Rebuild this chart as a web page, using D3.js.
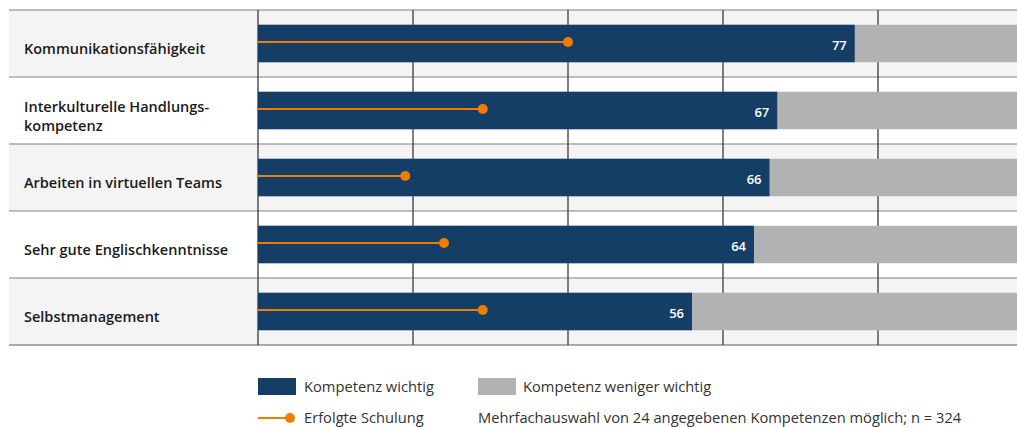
<!DOCTYPE html>
<html>
  <head>
    <meta charset="UTF-8" />
    <title>Kompetenzen</title>
    <script src="https://d3js.org/d3.v7.min.js"></script>
    <style>
      body {
        margin: 0;
        background: #fff;
      }
      svg {
        font-family: "Open Sans", Sans-Serif;
      }
      .cat-label {
        font-size: 14.5px;
        font-weight: 600;
        fill: #1a1a1a;
      }
      .value-label {
        font-size: 13px;
        font-weight: 600;
        fill: #fff;
      }
      .legend-text {
        font-size: 14.7px;
        fill: #333;
      }
    </style>
  </head>
  <body>
    <div id="chart"></div>
    <script>
      /* Data */
      var categories = [
        ["Kommunikationsfähigkeit"],
        ["Interkulturelle Handlungs-", "kompetenz"],
        ["Arbeiten in virtuellen Teams"],
        ["Sehr gute Englischkenntnisse"],
        ["Selbstmanagement"]
      ];
      var wichtig = [77, 67, 66, 64, 56];
      var schulung = [40, 29, 19, 24, 29];
      var ticks = [0, 20, 40, 60, 80, 100];

      var width = 1017;
      var height = 427;

      var blue = "#153e66";
      var grey = "#b1b2b4";
      var orange = "#ef7d00";

      var svg = d3.select("#chart").append("svg")
        .attr("width", width)
        .attr("height", height);

      /* Scales */
      var xScale = d3.scaleLinear()
        .domain([0, 100])
        .range([258, 1033]);

      var yScale = d3.scaleBand()
        .domain(d3.range(categories.length))
        .range([10, 345]);

      var barH = 37.5;

      /* Row backgrounds */
      svg.append("g").selectAll("rect")
        .data(categories).enter()
        .append("rect")
        .attr("x", 9)
        .attr("y", (d, i) => yScale(i))
        .attr("width", width - 9)
        .attr("height", yScale.bandwidth())
        .attr("fill", (d, i) => i % 2 == 0 ? "#f4f4f4" : "#fff");

      /* Row lines */
      svg.append("g").selectAll("line")
        .data(d3.range(categories.length + 1)).enter()
        .append("line")
        .attr("x1", 9)
        .attr("x2", width)
        .attr("y1", i => i < categories.length ? yScale(i) : yScale.range()[1])
        .attr("y2", i => i < categories.length ? yScale(i) : yScale.range()[1])
        .attr("stroke", "#a9a9a9")
        .attr("stroke-width", (d, i) => i == categories.length ? 2 : 1.5);

      /* Vertical grid */
      svg.append("g").selectAll("line")
        .data(ticks).enter()
        .append("line")
        .attr("x1", d => xScale(d))
        .attr("x2", d => xScale(d))
        .attr("y1", 10)
        .attr("y2", 345)
        .attr("stroke", "#3a3a3a")
        .attr("stroke-width", 1.3);

      /* Bars */
      var rows = svg.append("g").selectAll("g")
        .data(wichtig).enter()
        .append("g")
        .attr("transform", (d, i) => `translate(0, ${yScale(i) + yScale.bandwidth() / 2})`);

      rows.append("rect")
        .attr("x", xScale(0))
        .attr("y", -barH / 2)
        .attr("width", xScale(100) - xScale(0))
        .attr("height", barH)
        .attr("fill", grey);

      rows.append("rect")
        .attr("x", xScale(0))
        .attr("y", -barH / 2)
        .attr("width", d => xScale(d) - xScale(0))
        .attr("height", barH)
        .attr("fill", blue);

      rows.append("text")
        .attr("class", "value-label")
        .attr("x", d => xScale(d) - 8)
        .attr("y", 6)
        .attr("text-anchor", "end")
        .text(d => d);

      /* Schulung lines */
      rows.append("line")
        .attr("x1", xScale(0))
        .attr("x2", (d, i) => xScale(schulung[i]))
        .attr("y1", -1.5)
        .attr("y2", -1.5)
        .attr("stroke", orange)
        .attr("stroke-width", 2);

      rows.append("circle")
        .attr("cx", (d, i) => xScale(schulung[i]))
        .attr("cy", -1.5)
        .attr("r", 5)
        .attr("fill", orange);

      /* Category labels */
      svg.append("g").selectAll("text")
        .data(categories).enter()
        .append("text")
        .attr("class", "cat-label")
        .attr("x", 24)
        .attr("y", (d, i) => yScale(i) + yScale.bandwidth() / 2 + (d.length > 1 ? 1.5 : 10))
        .selectAll("tspan")
        .data(d => d).enter()
        .append("tspan")
        .attr("x", 24)
        .attr("dy", (d, i) => i == 0 ? 0 : 19)
        .text(d => d);

      /* Legend */
      var legend = svg.append("g");

      legend.append("rect")
        .attr("x", 258).attr("y", 378)
        .attr("width", 38).attr("height", 17)
        .attr("fill", blue);
      legend.append("text")
        .attr("class", "legend-text")
        .attr("x", 304).attr("y", 392)
        .text("Kompetenz wichtig");

      legend.append("rect")
        .attr("x", 478).attr("y", 378)
        .attr("width", 38).attr("height", 17)
        .attr("fill", grey);
      legend.append("text")
        .attr("class", "legend-text")
        .attr("x", 523).attr("y", 392)
        .text("Kompetenz weniger wichtig");

      legend.append("line")
        .attr("x1", 258).attr("x2", 290)
        .attr("y1", 418).attr("y2", 418)
        .attr("stroke", orange)
        .attr("stroke-width", 2);
      legend.append("circle")
        .attr("cx", 290).attr("cy", 418)
        .attr("r", 5)
        .attr("fill", orange);
      legend.append("text")
        .attr("class", "legend-text")
        .attr("x", 304).attr("y", 423)
        .text("Erfolgte Schulung");

      legend.append("text")
        .attr("class", "legend-text")
        .attr("x", 478).attr("y", 423)
        .text("Mehrfachauswahl von 24 angegebenen Kompetenzen möglich; n = 324");
    </script>
  </body>
</html>
